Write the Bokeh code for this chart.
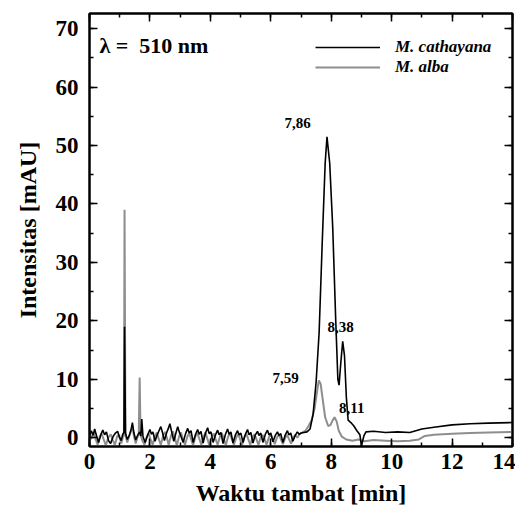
from bokeh.plotting import figure
from bokeh.models import (LinearAxis, SingleIntervalTicker, Legend, LegendItem,
                          Range1d, Label, CustomJSTickFormatter)
from bokeh.embed import file_html
from bokeh.resources import INLINE

# ---- data ----
cath_t = [0.00, 0.06, 0.12, 0.17, 0.24, 0.30, 0.38, 0.44, 0.50, 0.56, 0.63, 0.70,
          0.78, 0.86, 0.93, 0.99, 1.05, 1.10, 1.14, 1.16, 1.19, 1.25, 1.32, 1.38,
          1.42, 1.47, 1.53, 1.60, 1.66, 1.70, 1.73, 1.77, 1.84, 1.92, 2.00, 2.05,
          2.10, 2.17, 2.24, 2.30, 2.36, 2.42, 2.48, 2.55, 2.61, 2.66, 2.72, 2.79,
          2.86, 2.92, 2.97, 3.03, 3.10, 3.18, 3.25, 3.30, 3.36, 3.43, 3.51, 3.58,
          3.63, 3.69, 3.76, 3.84, 3.91, 3.96, 4.02, 4.09, 4.17, 4.24, 4.29, 4.35,
          4.42, 4.50, 4.57, 4.62, 4.68, 4.75, 4.83, 4.90, 4.95, 5.01, 5.08, 5.16,
          5.23, 5.28, 5.34, 5.41, 5.49, 5.56, 5.61, 5.67, 5.74, 5.82, 5.89, 5.94,
          6.00, 6.07, 6.15, 6.22, 6.27, 6.33, 6.40, 6.48, 6.55, 6.60, 6.66, 6.73,
          6.81, 6.88, 6.94, 7.00, 7.10, 7.20, 7.30, 7.40, 7.50, 7.60, 7.70, 7.80,
          7.86, 7.95, 8.05, 8.15, 8.22, 8.26, 8.32, 8.38, 8.44, 8.50, 8.56, 8.65,
          8.75, 8.85, 8.95, 9.00, 9.08, 9.15, 9.40, 9.80, 10.20, 10.60, 11.00,
          11.40, 12.00, 12.60, 13.20, 14.00]
cath_y = [0.3, 1.2, 0.4, 1.5, 0.2, -0.8, 0.6, 1.3, 0.5, 1.0, -0.5, -1.0,
          0.2, 0.8, 1.1, 0.1, -0.5, 0.6, 0.9, 19.0, 0.8, -0.3, 0.4, 1.5,
          2.6, 0.8, -0.4, 0.5, 1.0, 0.3, 3.2, 0.2, -0.8, 0.4, 1.4, 0.6,
          1.0, -0.6, 0.5, 1.2, 1.9, 0.8, -0.5, 0.8, 1.6, 2.4, 1.0, -0.6,
          0.8, 1.9, 1.0, 0.2, -0.8, 0.7, 1.6, 0.8, 1.2, -0.8, 0.6, 1.4,
          0.6, 1.1, -0.9, 0.8, 1.7, 0.7, 1.0, -0.8, 0.5, 1.3, 0.5, 0.9,
          -1.0, 0.6, 1.5, 0.6, 1.0, -0.9, 0.5, 1.2, 0.5, 0.8, -0.8, 0.6,
          1.4, 0.5, 0.9, -0.9, 0.5, 1.1, 0.4, 0.8, -0.8, 0.6, 1.3, 0.5,
          0.8, -0.7, 0.4, 1.0, 0.4, 0.7, -0.8, 0.5, 1.2, 0.5, 0.8, -0.6,
          0.4, 1.0, 0.6, 0.8, 0.9, 1.0, 1.5, 4.0, 9.5, 18.0, 33.0, 47.0,
          51.5, 47.0, 36.0, 20.0, 10.0, 9.0, 13.0, 16.5, 14.0, 7.0, 3.0, 2.6,
          2.0, 1.2, 0.5, -1.4, 0.3, 1.0, 1.1, 0.9, 1.0, 0.9, 1.5,
          1.8, 2.2, 2.4, 2.5, 2.6]

alba_t = [0.00, 0.08, 0.14, 0.20, 0.27, 0.34, 0.40, 0.47, 0.54, 0.62, 0.70, 0.77,
          0.84, 0.92, 0.98, 1.05, 1.10, 1.14, 1.16, 1.19, 1.25, 1.32, 1.38, 1.42,
          1.47, 1.53, 1.58, 1.63, 1.66, 1.69, 1.75, 1.82, 1.90, 1.96, 2.02, 2.09,
          2.17, 2.23, 2.29, 2.36, 2.44, 2.50, 2.56, 2.62, 2.70, 2.76, 2.82, 2.89,
          2.97, 3.03, 3.09, 3.16, 3.24, 3.30, 3.36, 3.43, 3.51, 3.57, 3.63, 3.70,
          3.78, 3.84, 3.90, 3.97, 4.05, 4.11, 4.17, 4.24, 4.32, 4.38, 4.44, 4.51,
          4.59, 4.65, 4.71, 4.78, 4.86, 4.92, 4.98, 5.05, 5.13, 5.19, 5.25, 5.32,
          5.40, 5.46, 5.52, 5.59, 5.67, 5.73, 5.79, 5.86, 5.94, 6.00, 6.06, 6.13,
          6.21, 6.27, 6.33, 6.40, 6.48, 6.54, 6.60, 6.67, 6.75, 6.81, 6.88, 6.95,
          7.05, 7.15, 7.25, 7.35, 7.45, 7.52, 7.59, 7.65, 7.72, 7.80, 7.90, 7.98,
          8.05, 8.11, 8.18, 8.25, 8.35, 8.50, 8.70, 8.90, 9.10, 9.40, 9.80, 10.20,
          10.60, 10.90, 11.10, 11.40, 12.00, 12.60, 13.20, 14.00]
alba_y = [-0.6, 0.3, 0.8, -0.2, -1.2, 0.2, 0.7, -0.3, -1.3, 0.0, 0.6, -0.4,
          -1.2, 0.3, 0.5, -1.0, 0.0, 0.5, 39.0, 0.5, -0.8, 0.4, 1.2, 2.0,
          0.3, -1.0, 0.0, 0.5, 10.3, 0.5, -0.5, -1.2, 0.2, 0.7, -0.3, -1.2,
          0.3, 0.9, -0.2, -1.2, 0.4, 1.0, 0.0, -1.2, 0.4, 1.1, 0.0, -1.3,
          0.3, 0.9, -0.2, -1.2, 0.2, 0.8, -0.2, -1.3, 0.3, 0.8, -0.1, -1.2,
          0.2, 0.9, -0.2, -1.3, 0.2, 0.7, -0.2, -1.2, 0.2, 0.8, -0.1, -1.3,
          0.2, 0.7, -0.2, -1.2, 0.1, 0.6, -0.2, -1.3, 0.2, 0.7, -0.2, -1.2,
          0.1, 0.6, -0.2, -1.2, 0.1, 0.5, -0.2, -1.2, 0.1, 0.6, -0.2, -1.1,
          0.1, 0.5, -0.2, -1.1, 0.0, 0.5, -0.2, -1.0, 0.1, 0.5, 0.0, 0.6,
          0.9, 1.2, 2.0, 3.0, 5.0, 7.5, 9.8, 9.2, 6.5, 3.5, 2.0, 2.2,
          3.0, 3.5, 2.8, 1.2, 0.2, -0.3, -0.5, -0.3, -0.6, -0.4, -0.5, -0.6,
          -0.5, -0.3, 0.3, 0.5, 0.7, 0.8, 0.9, 1.0]

peak_labels = ["7,86", "8,38", "7,59", "8,11"]
peak_label_t = [6.89, 8.31, 6.49, 8.68]
peak_label_y = [53.8, 19.0, 10.3, 5.1]

series_names = ["M. cathayana", "M. alba"]

SERIF = "Liberation Serif"
GRAY = "#8e8e8e"

p = figure(width=515, height=504, output_backend="svg", toolbar_location=None,
           x_range=Range1d(0, 14), y_range=Range1d(-1.5, 72.6),
           frame_width=423, frame_height=433,
           min_border_left=89, min_border_right=3, min_border_top=13,
           min_border_bottom=58,
           x_axis_label="Waktu tambat [min]", y_axis_label="Intensitas [mAU]")
p.background_fill_color = "white"
p.border_fill_color = "white"
p.grid.visible = False
p.outline_line_color = "black"
p.outline_line_width = 2

p.xaxis.ticker = SingleIntervalTicker(interval=2, num_minor_ticks=2)
p.yaxis.ticker = SingleIntervalTicker(interval=10, num_minor_ticks=2)

for ax in (p.xaxis[0], p.yaxis[0]):
    ax.major_tick_in = 8
    ax.major_tick_out = 0
    ax.minor_tick_in = 4
    ax.minor_tick_out = 0
    ax.axis_line_width = 2
    ax.major_tick_line_width = 1.5
    ax.minor_tick_line_width = 1.5
    ax.major_label_text_font = SERIF
    ax.major_label_text_font_style = "bold"
    ax.major_label_text_font_size = "23px"
    ax.major_label_text_color = "black"
    ax.axis_label_text_font = SERIF
    ax.axis_label_text_font_style = "bold"
    ax.axis_label_text_font_size = "24px"
    ax.axis_label_text_color = "black"

p.yaxis.major_label_standoff = 11
p.yaxis.axis_label_standoff = 12
p.xaxis.major_label_standoff = 7
p.xaxis.axis_label_standoff = 8

top = LinearAxis(ticker=SingleIntervalTicker(interval=2, num_minor_ticks=2))
right = LinearAxis(ticker=SingleIntervalTicker(interval=10, num_minor_ticks=2))
for ax in (top, right):
    ax.major_tick_in = 8
    ax.major_tick_out = 0
    ax.minor_tick_in = 4
    ax.minor_tick_out = 0
    ax.axis_line_width = 2
    ax.major_tick_line_width = 1.5
    ax.minor_tick_line_width = 1.5
    ax.major_label_text_color = None
    ax.major_label_standoff = 0
    ax.formatter = CustomJSTickFormatter(code="return ''")
p.add_layout(top, "above")
p.add_layout(right, "right")

r_alba = p.line(alba_t, alba_y, line_color=GRAY, line_width=2)
r_cath = p.line(cath_t, cath_y, line_color="black", line_width=1.6)

for txt, tx, ty in zip(peak_labels, peak_label_t, peak_label_y):
    p.add_layout(Label(x=tx, y=ty, text=txt, text_font=SERIF,
                       text_font_style="bold", text_font_size="15px",
                       text_color="black",
                       text_align="center", text_baseline="middle"))

p.add_layout(Label(x=0.33, y=67.1, text="λ =\u00a0\u00a0510 nm", text_font=SERIF,
                   text_font_style="bold", text_font_size="22px",
                   text_color="black",
                   text_align="left", text_baseline="middle"))

legend = Legend(items=[LegendItem(label=series_names[0], renderers=[r_cath]),
                       LegendItem(label=series_names[1], renderers=[r_alba])],
                location=(226, 369), glyph_width=65, glyph_height=20,
                label_height=20, spacing=0, padding=0, label_standoff=15,
                border_line_color=None, background_fill_alpha=0,
                label_text_font=SERIF, label_text_font_style="bold italic",
                label_text_font_size="17px", label_text_color="black")
p.add_layout(legend)

open("out.html", "w").write(file_html(p, INLINE))
